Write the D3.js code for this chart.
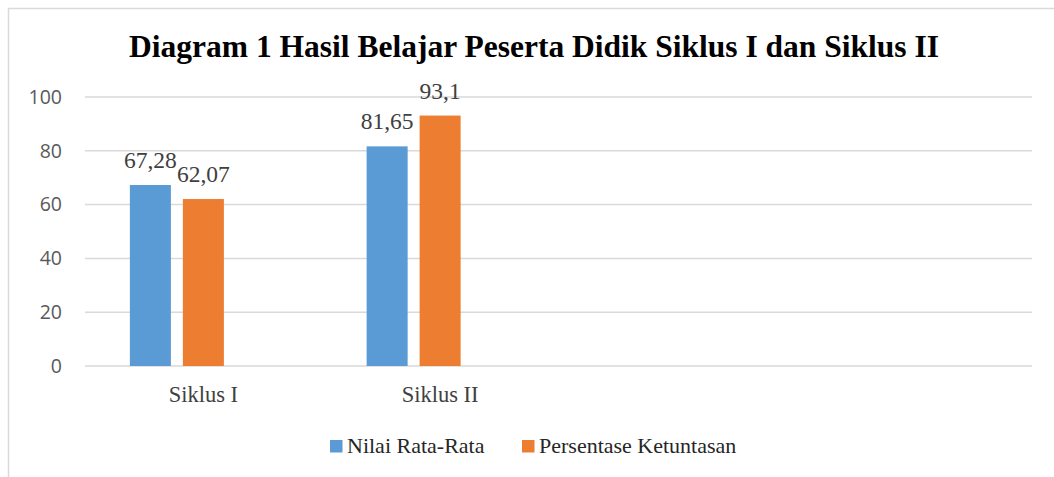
<!DOCTYPE html>
<html>
<head>
<meta charset="utf-8">
<script src="https://cdn.jsdelivr.net/npm/d3@7"></script>
<style>
  html, body { margin: 0; padding: 0; background: #fff; }
  svg { display: block; }
</style>
</head>
<body>
<div id="chart"></div>
<script>
const categories = ['Siklus I', 'Siklus II', '', ' '];
// Excel keeps a third (empty) series slot, which pushes the two bars left of centre
const seriesNames = ['Nilai Rata-Rata', 'Persentase Ketuntasan', '(kosong)'];
const nilaiRataRata = [67.28, 81.65];
const persentaseKetuntasan = [62.07, 93.1];
const yTicks = [0, 20, 40, 60, 80, 100];
const colors = ['#5b9bd5', '#ed7d31'];

const width = 1054, height = 477;
const margin = { top: 97, right: 22, bottom: 111, left: 85 };

const svg = d3.select('#chart').append('svg')
  .attr('width', width)
  .attr('height', height);

// chart frame
svg.append('path')
  .attr('d', `M8.5,${height} V8.5 H${width}`)
  .attr('fill', 'none')
  .attr('stroke', '#d9d9d9')
  .attr('stroke-width', 1.5);

const x = d3.scaleBand()
  .domain(categories)
  .range([margin.left, width - margin.right]);

const xInner = d3.scaleBand()
  .domain(seriesNames)
  .range([0, x.bandwidth()])
  .paddingInner(0.226)
  .paddingOuter(0.847);

const y = d3.scaleLinear()
  .domain([0, 100])
  .range([height - margin.bottom, margin.top]);

// gridlines
svg.append('g')
  .selectAll('line')
  .data(yTicks)
  .join('line')
  .attr('x1', margin.left)
  .attr('x2', width - margin.right)
  .attr('y1', d => y(d))
  .attr('y2', d => y(d))
  .attr('stroke', '#d9d9d9')
  .attr('stroke-width', 1.5);

// y labels
svg.append('g')
  .selectAll('text')
  .data(yTicks)
  .join('text')
  .attr('x', 62)
  .attr('y', d => y(d))
  .attr('dy', '0.35em')
  .attr('text-anchor', 'end')
  .attr('font-family', '"Open Sans", sans-serif')
  .attr('font-size', 19.5)
  .attr('fill', '#595959')
  .text(d => d);

// x labels
svg.append('g')
  .selectAll('text')
  .data(categories)
  .join('text')
  .attr('x', d => x(d) + x.bandwidth() / 2)
  .attr('y', 402)
  .attr('text-anchor', 'middle')
  .attr('font-family', '"Liberation Serif", serif')
  .attr('font-size', 22.5)
  .attr('fill', '#404040')
  .text(d => d.trim());

const rows = categories.slice(0, 2).map((c, i) => ({
  cat: c,
  values: [
    { name: seriesNames[0], value: nilaiRataRata[i] },
    { name: seriesNames[1], value: persentaseKetuntasan[i] }
  ]
}));

const groups = svg.append('g')
  .selectAll('g')
  .data(rows)
  .join('g')
  .attr('transform', d => `translate(${x(d.cat)},0)`);

groups.selectAll('rect')
  .data(d => d.values)
  .join('rect')
  .attr('x', d => xInner(d.name))
  .attr('width', xInner.bandwidth())
  .attr('y', d => y(d.value))
  .attr('height', d => y(0) - y(d.value))
  .attr('fill', (d, i) => colors[i]);

groups.selectAll('text')
  .data(d => d.values)
  .join('text')
  .attr('x', d => xInner(d.name) + xInner.bandwidth() / 2)
  .attr('y', d => y(d.value) - 17)
  .attr('text-anchor', 'middle')
  .attr('font-family', '"Liberation Serif", serif')
  .attr('font-size', 23.5)
  .attr('fill', '#404040')
  .text(d => String(d.value).replace('.', ','));

// title
svg.append('text')
  .attr('x', 534)
  .attr('y', 57)
  .attr('text-anchor', 'middle')
  .attr('font-family', '"Liberation Serif", serif')
  .attr('font-weight', 'bold')
  .attr('font-size', 31.5)
  .attr('fill', '#000')
  .text('Diagram 1 Hasil Belajar Peserta Didik Siklus I dan Siklus II');

// legend
const legendX = [330, 522];
const legend = svg.append('g')
  .selectAll('g')
  .data(seriesNames.slice(0, 2))
  .join('g')
  .attr('transform', (d, i) => `translate(${legendX[i]},440)`);

legend.append('rect')
  .attr('width', 12.5)
  .attr('height', 12.5)
  .attr('fill', (d, i) => colors[i]);

legend.append('text')
  .attr('x', 17)
  .attr('y', 12.5)
  .attr('font-family', '"Liberation Serif", serif')
  .attr('font-size', 22)
  .attr('fill', '#262626')
  .text(d => d);
</script>
</body>
</html>
